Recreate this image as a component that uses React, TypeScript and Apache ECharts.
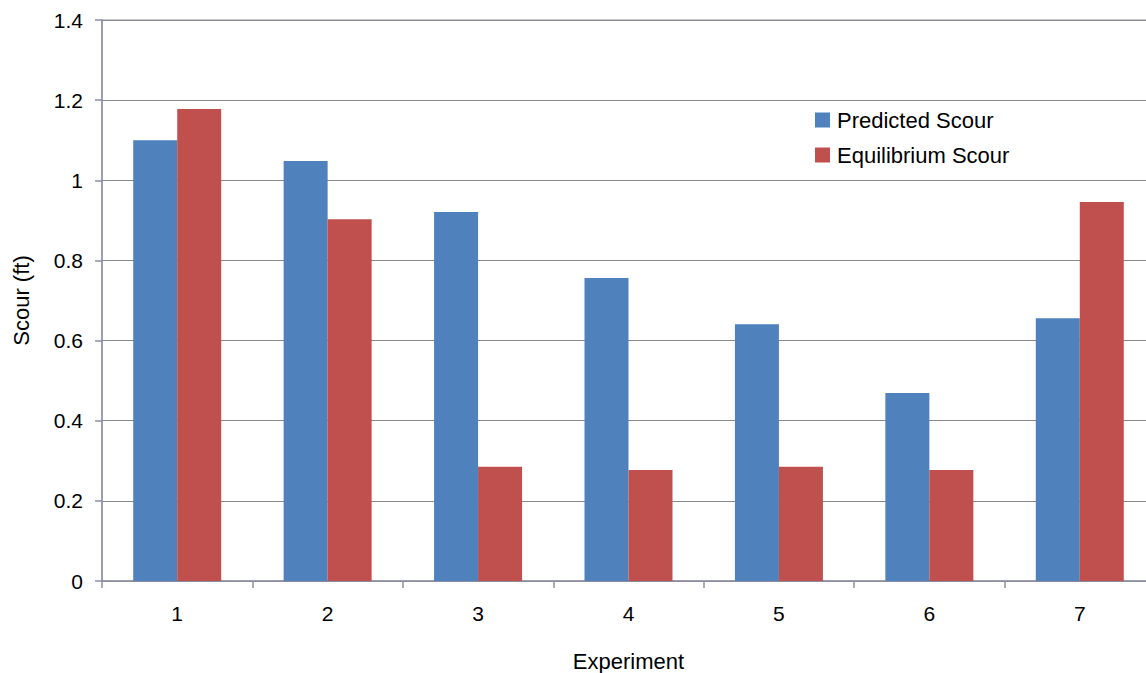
import React, { useEffect, useRef } from "react";
import * as echarts from "echarts";

const categories = ["1", "2", "3", "4", "5", "6", "7"];
const predictedScour = [1.1, 1.048, 0.921, 0.756, 0.641, 0.469, 0.656];
const equilibriumScour = [1.178, 0.903, 0.285, 0.277, 0.285, 0.277, 0.946];
const seriesNames = ["Predicted Scour", "Equilibrium Scour"];

const FONT = "'Liberation Sans', Arial, sans-serif";

export default function App() {
  const ref = useRef<HTMLDivElement>(null);
  useEffect(() => {
    if (!ref.current) return;
    const chart = echarts.init(ref.current, undefined, { renderer: "svg" });
    chart.setOption({
      animation: false,
      backgroundColor: "#ffffff",
      textStyle: { fontFamily: FONT, color: "#000" },
      grid: {
        left: 102,
        top: 20,
        width: 1053,
        height: 561,
        outerBoundsMode: "none",
        containLabel: false,
        show: true,
        borderColor: "#8e8ea8",
        borderWidth: 1,
        backgroundColor: "transparent",
      },
      legend: {
        orient: "vertical",
        left: 815,
        top: 109,
        itemWidth: 15,
        itemHeight: 15,
        itemGap: 13,
        icon: "rect",
        backgroundColor: "#ffffff",
        padding: 0,
        textStyle: { fontFamily: FONT, fontSize: 22, color: "#000", padding: [0, 0, 0, 2] },
        data: seriesNames,
      },
      xAxis: {
        type: "category",
        data: categories,
        name: "Experiment",
        nameLocation: "middle",
        nameGap: 69,
        nameTextStyle: { fontFamily: FONT, fontSize: 22, color: "#000" },
        axisLine: { lineStyle: { color: "#8e8ea8", width: 1.5 } },
        axisTick: { show: true, length: 7, lineStyle: { color: "#8e8ea8", width: 1.5 } },
        axisLabel: { fontFamily: FONT, fontSize: 21, color: "#000", margin: 22 },
      },
      yAxis: {
        type: "value",
        min: 0,
        max: 1.4,
        interval: 0.2,
        name: "Scour (ft)",
        nameLocation: "middle",
        nameGap: 70,
        nameTextStyle: { fontFamily: FONT, fontSize: 22, color: "#000" },
        axisLine: { show: true, lineStyle: { color: "#8e8ea8", width: 1.5 } },
        axisTick: { show: true, length: 7, lineStyle: { color: "#8e8ea8", width: 1.5 } },
        axisLabel: { fontFamily: FONT, fontSize: 21, color: "#000", margin: 19 },
        splitLine: { show: true, lineStyle: { color: "#8a8a8a", width: 1 } },
      },
      series: [
        {
          name: seriesNames[0],
          type: "bar",
          data: predictedScour,
          barWidth: 44,
          barGap: "0%",
          itemStyle: { color: "#4f81bd" },
        },
        {
          name: seriesNames[1],
          type: "bar",
          data: equilibriumScour,
          barWidth: 44,
          barGap: "0%",
          itemStyle: { color: "#c0504d" },
        },
      ],
    });
    return () => chart.dispose();
  }, []);
  return (
    <div
      ref={ref}
      style={{ position: "fixed", left: 0, top: 0, width: 1146, height: 673 }}
    />
  );
}
